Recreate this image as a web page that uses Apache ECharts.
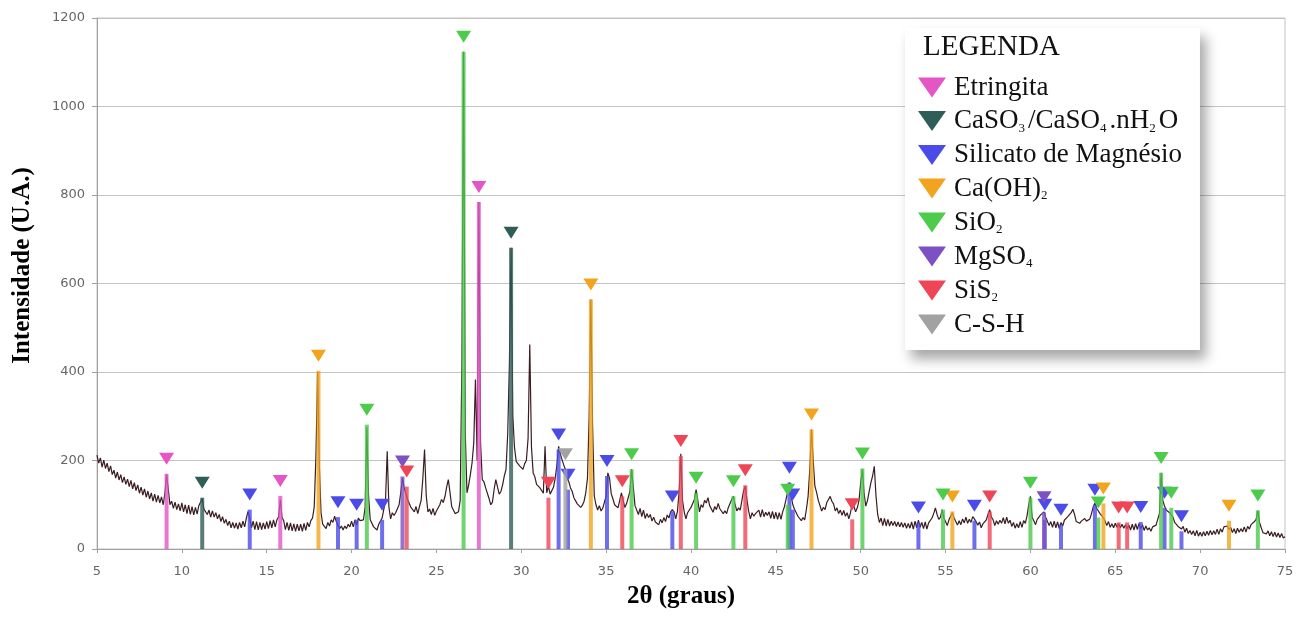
<!DOCTYPE html>
<html><head><meta charset="utf-8">
<script src="https://cdn.jsdelivr.net/npm/echarts@6/dist/echarts.min.js"></script>
<style>html,body{margin:0;padding:0;background:#fff}#c{width:1310px;height:624px}</style>
</head><body><div id="c"></div>
<script>
const twoThetaStart = 5;
const twoThetaStep = 0.1;
const intensity = [
212,194,206,185,201,182,194,175,188,168,
178,160,174,156,168,150,163,146,158,141,
155,136,150,132,145,126,140,122,136,117,
131,113,127,108,124,106,121,104,118,100,
125,168,135,100,108,92,106,89,102,86,
104,84,100,80,99,78,96,77,94,79,
98,100,114,90,90,78,88,72,86,72,
82,68,78,62,73,58,67,53,63,48,
60,47,59,45,60,48,63,50,70,85,
70,48,63,44,62,43,60,44,59,45,
62,46,64,48,66,50,66,72,112,72,
64,44,60,42,59,41,57,40,56,41,
56,40,58,42,60,50,64,70,95,210,
400,190,82,56,60,46,60,52,66,60,
74,62,62,46,52,43,52,46,56,50,
63,50,66,54,70,64,68,66,95,275,
120,66,63,50,54,43,56,54,70,68,
110,221,95,68,82,76,82,80,100,128,
160,138,142,112,116,94,98,84,96,80,
96,110,160,225,120,84,90,78,92,76,
86,84,100,112,105,118,140,157,128,96,
100,80,82,84,110,420,1124,260,127,145,
168,195,240,383,200,784,240,157,152,138,
134,114,100,106,135,157,140,124,130,145,
165,180,260,420,681,300,230,198,200,188,
190,180,193,200,250,462,230,172,163,146,
150,138,138,126,232,127,142,124,128,140,
160,190,232,215,202,190,180,160,152,138,
130,116,114,102,104,94,99,108,127,160,
300,564,280,120,100,88,98,86,92,90,
120,172,160,125,113,100,103,93,110,127,
110,94,102,105,130,180,140,98,94,78,
92,73,88,69,80,71,78,63,72,61,
65,55,67,59,71,62,77,70,84,89,
84,68,85,130,215,110,84,68,82,78,
94,92,112,134,110,84,100,94,110,104,
116,98,100,83,96,89,103,91,94,80,
86,80,94,98,112,119,100,86,93,88,
110,132,142,110,85,68,82,74,80,76,
88,72,89,73,83,76,84,69,85,68,
83,67,82,67,84,95,112,130,150,120,
100,90,92,74,78,64,71,66,90,119,
180,270,200,142,128,110,98,86,94,89,
105,112,119,108,102,86,93,80,88,76,
87,74,82,68,82,104,96,84,93,110,
150,180,125,97,110,130,150,165,187,120,
78,60,70,53,69,52,67,52,63,53,
62,51,61,50,60,49,59,47,58,47,
61,45,63,48,65,49,60,46,61,45,
59,56,70,80,93,78,67,72,89,70,
68,53,66,64,82,70,66,54,64,55,
68,59,72,58,67,60,73,68,69,54,
61,48,57,53,66,78,89,72,66,53,
64,56,65,58,71,57,72,58,65,51,
60,47,57,48,62,49,64,58,75,100,
119,72,64,55,67,66,77,74,84,72,
71,53,62,49,63,48,61,46,60,52,
65,63,73,71,82,90,78,62,62,58,
63,60,69,63,67,68,80,95,104,92,
88,80,84,71,70,53,62,49,57,48,
58,49,57,48,56,47,55,46,54,43,
56,43,57,44,58,46,55,42,52,43,
48,40,50,46,54,56,80,172,110,97,
88,84,82,78,72,60,62,51,55,45,
51,38,47,35,42,33,41,30,42,29,
38,29,39,30,40,31,42,32,41,33,
45,33,46,38,50,50,52,44,49,37,
46,35,47,38,46,39,50,38,51,45,
55,58,62,67,87,60,48,37,41,34,
41,30,39,28,38,27,36,26,35,25,
28
];

// Phase identification markers: [2θ, peak intensity]
const etringita = [[9.1,170],[15.8,120],[27.5,784]];
const casulfato = [[11.2,116],[29.4,681]];
const silicatoMg = [[14.0,89],[19.2,72],[20.3,66],[21.8,66],[32.2,225],[32.75,134],[35.05,165],[38.9,85],[45.8,150],[46.0,89],[53.4,60],[56.7,64],[60.85,66],[61.8,55],[63.8,100],[66.5,61],[67.9,93],[68.9,40]];
const caOH2 = [[18.05,403],[34.1,564],[47.1,270],[55.4,85],[64.3,103],[71.7,64]];
const sio2 = [[20.9,281],[26.6,1124],[36.5,180],[40.3,127],[42.5,119],[45.7,100],[50.1,182],[54.85,89],[60.0,116],[64.0,71],[67.7,172],[68.3,93],[73.4,87]];
const mgso4 = [[23.0,164],[60.8,83]];
const sis2 = [[23.25,141],[31.6,116],[35.95,119],[39.4,210],[43.2,144],[49.5,67],[57.6,85],[65.2,60],[65.7,60]];
const csh = [[32.6,180]];

const phaseNames = ['Etringita','CaSO3/CaSO4.nH2O','Silicato de Magnésio','Ca(OH)2','SiO2','MgSO4','SiS2','C-S-H'];
const phaseLabels = {
  'Etringita':'{n|Etringita}',
  'CaSO3/CaSO4.nH2O':'{n|CaSO}{s|3}{n|/CaSO}{s|4}{n|.nH}{s|2}{n|O}',
  'Silicato de Magnésio':'{n|Silicato de Magnésio}',
  'Ca(OH)2':'{n|Ca(OH)}{s|2}',
  'SiO2':'{n|SiO}{s|2}',
  'MgSO4':'{n|MgSO}{s|4}',
  'SiS2':'{n|SiS}{s|2}',
  'C-S-H':'{n|C-S-H}'
};
const phaseColors = ['#e455c6','#2f5d58','#4b4be8','#f3a41f','#4ccb4c','#7d50c4','#ee4656','#a2a2a2'];
const phaseData = [etringita, casulfato, silicatoMg, caOH2, sio2, mgso4, sis2, csh];

const pattern = intensity.map((v,i)=>[+(twoThetaStart + i*twoThetaStep).toFixed(2), v]);

function markerSeries(name, color, data){
  return {
    name, type:'custom', data, z:5, itemStyle:{color},
    encode:{x:0,y:1},
    renderItem(params, api){
      const top = api.coord([api.value(0), api.value(1)]);
      const base = api.coord([api.value(0), 0]);
      const x = top[0], y = top[1];
      return {type:'group', children:[
        {type:'line', shape:{x1:x,y1:base[1],x2:x,y2:y}, style:{stroke:color,lineWidth:4,opacity:0.8}},
        {type:'polygon', shape:{points:[[x-7.5,y-21],[x+7.5,y-21],[x,y-9]]}, style:{fill:color}}
      ]};
    }
  };
}

const chart = echarts.init(document.getElementById('c'));
const series = [{
  name:'Difratograma', type:'line', data:pattern, showSymbol:false, z:3,
  lineStyle:{color:'#3a1d21', width:1.2}, animation:false
}];
phaseNames.forEach((n,i)=>series.push(markerSeries(n, phaseColors[i], phaseData[i])));

chart.setOption({
  animation:false,
  backgroundColor:'#fff',
  title:{text:'LEGENDA', left:923, top:33, padding:0,
    textStyle:{fontFamily:'Liberation Serif', fontSize:29, fontWeight:'normal', color:'#111'}},
  legend:{
    data: phaseNames.map(n=>({name:n, icon:'path://M0,0L28,0L14,20Z'})),
    orient:'vertical', left:905, top:28,
    padding:[46,18,12,13],
    itemWidth:28, itemHeight:20, itemGap:6.5,
    backgroundColor:'#fff',
    shadowBlur:12, shadowColor:'rgba(0,0,0,0.35)', shadowOffsetX:6, shadowOffsetY:9,
    selectedMode:false,
    formatter: n => phaseLabels[n],
    textStyle:{
      color:'#111',
      rich:{
        n:{fontFamily:'Liberation Serif', fontSize:27, lineHeight:28, color:'#111', padding:[0,0,0,3]},
        s:{fontFamily:'Liberation Serif', fontSize:13, lineHeight:10, verticalAlign:'bottom', color:'#111'}
      }
    }
  },
  grid:{left:97, right:25, top:18, bottom:75, show:true, borderColor:'#c4c4c4', borderWidth:1},
  xAxis:{
    type:'value', min:5, max:75, interval:5,
    axisLine:{show:true, lineStyle:{color:'#a0a0a0'}},
    axisTick:{show:true, length:4, lineStyle:{color:'#a0a0a0'}},
    splitLine:{show:false},
    axisLabel:{color:'#666', fontFamily:'DejaVu Sans', fontSize:13, margin:16, formatter:v=>String(v)},
    name:'2θ (graus)', nameLocation:'middle', nameGap:35,
    nameTextStyle:{fontFamily:'Liberation Serif', fontWeight:'bold', fontSize:25, color:'#000', padding:[0,20,0,0]}
  },
  yAxis:{
    type:'value', min:0, max:1200, interval:200,
    axisLine:{show:true, lineStyle:{color:'#a0a0a0'}},
    axisTick:{show:true, length:5, lineStyle:{color:'#a0a0a0'}},
    splitLine:{show:true, lineStyle:{color:'#c4c4c4'}},
    axisLabel:{color:'#666', fontFamily:'DejaVu Sans', fontSize:13, margin:12, formatter:v=>String(v)},
    name:'Intensidade (U.A.)', nameLocation:'middle', nameGap:62, nameRotate:90,
    nameTextStyle:{fontFamily:'Liberation Serif', fontWeight:'bold', fontSize:25, color:'#000', padding:[0,0,0,36]}
  },
  series
});
</script></body></html>
